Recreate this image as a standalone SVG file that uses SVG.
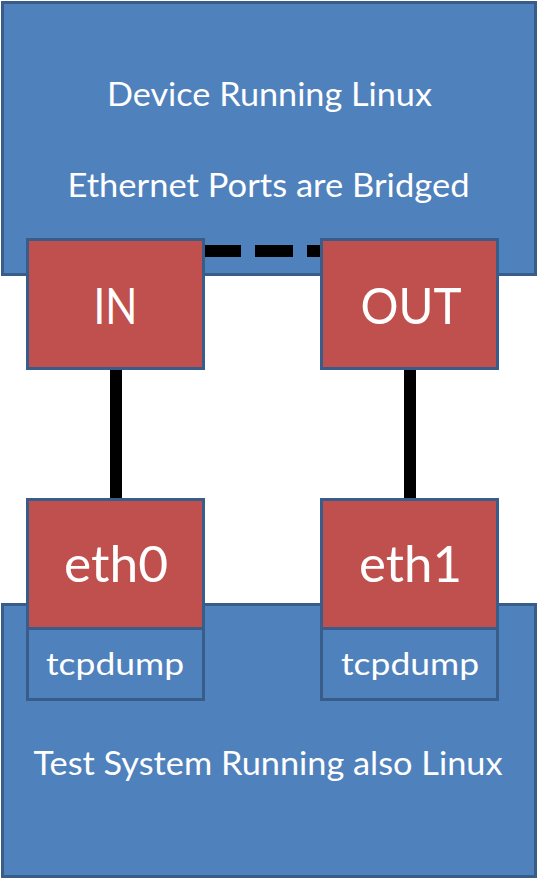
<svg xmlns="http://www.w3.org/2000/svg" width="538" height="880" viewBox="0 0 538 880">
<style>
.blue{fill:#4f81bd;stroke:#385d8a;stroke-width:3}
.red{fill:#c0504d;stroke:#385d8a;stroke-width:3}
.t{font-family:Lato,"Liberation Sans",sans-serif;fill:#ffffff;text-anchor:middle}
.m{font-size:32px}
.big{font-size:50px}
.s{font-size:30px}
.wire{stroke:#000000;stroke-width:12;fill:none}
</style>
<rect width="538" height="880" fill="#ffffff"/>
<g id="device">
<rect class="blue" x="2.5" y="2.5" width="533" height="272"/>
<text class="t m" x="269.5" y="106" textLength="325" lengthAdjust="spacingAndGlyphs">Device Running Linux</text>
<text class="t m" x="268.5" y="197" textLength="402" lengthAdjust="spacingAndGlyphs">Ethernet Ports are Bridged</text>
</g>
<g id="testsystem">
<rect class="blue" x="2.5" y="604.5" width="533" height="272"/>
<text class="t m" x="268" y="775" textLength="469" lengthAdjust="spacingAndGlyphs">Test System Running also Linux</text>
</g>
<g id="connectors">
<line class="wire" x1="203" y1="251" x2="321" y2="251" stroke-width="11" stroke-dasharray="38 14"/>
<line class="wire" x1="116" y1="369" x2="116" y2="499"/>
<line class="wire" x1="410" y1="369" x2="410" y2="499"/>
</g>
<g id="in">
<rect class="red" x="27.5" y="239.5" width="176" height="129"/>
<text class="t big" x="115.5" y="324" textLength="44" lengthAdjust="spacingAndGlyphs">IN</text>
</g>
<g id="out">
<rect class="red" x="321.5" y="239.5" width="176" height="129"/>
<text class="t big" x="411" y="324" textLength="101" lengthAdjust="spacingAndGlyphs">OUT</text>
</g>
<g id="eth0">
<rect class="red" x="27.5" y="499.5" width="176" height="129"/>
<text class="t big" x="116" y="582" textLength="104" lengthAdjust="spacingAndGlyphs">eth0</text>
</g>
<g id="eth1">
<rect class="red" x="321.5" y="499.5" width="176" height="129"/>
<text class="t big" x="410.5" y="582" textLength="103" lengthAdjust="spacingAndGlyphs">eth1</text>
</g>
<g id="tcpdump0">
<rect class="blue" x="27.5" y="628.5" width="176" height="71"/>
<text class="t s" x="115" y="675" textLength="138" lengthAdjust="spacingAndGlyphs">tcpdump</text>
</g>
<g id="tcpdump1">
<rect class="blue" x="321.5" y="628.5" width="176" height="71"/>
<text class="t s" x="410" y="675" textLength="138" lengthAdjust="spacingAndGlyphs">tcpdump</text>
</g>
</svg>
